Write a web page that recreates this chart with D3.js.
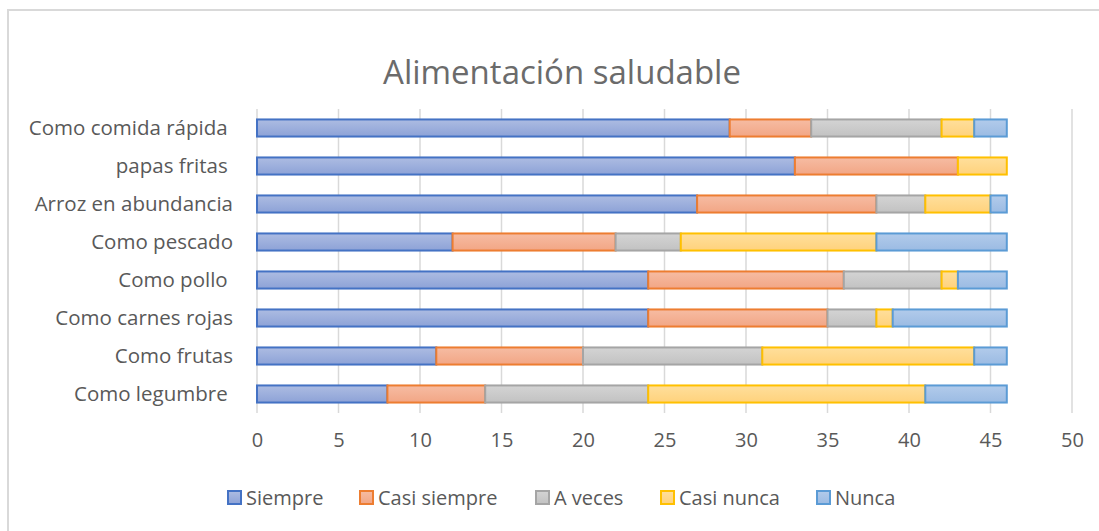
<!DOCTYPE html>
<html lang="es">
<head>
<meta charset="UTF-8">
<title>Alimentación saludable</title>
<style>
  body { margin: 0; background: #fff; }
  svg { display: block; font-family: 'Open Sans', sans-serif; }
  .lbl { fill: #595959; white-space: pre; }
</style>
</head>
<body>
<svg width="1099" height="531"></svg>
<script src="https://d3js.org/d3.v7.min.js"></script>
<script>
// categorías (de arriba a abajo)
const categories = ["Como comida rápida ", "papas fritas ", "Arroz en abundancia", "Como pescado",
  "Como pollo ", "Como carnes rojas", "Como frutas", "Como legumbre "];
const seriesNames = ["Siempre", "Casi siempre", "A veces", "Casi nunca", "Nunca"];
const siempre     = [29, 33, 27, 12, 24, 24, 11, 8];
const casiSiempre = [5, 10, 11, 10, 12, 11, 9, 6];
const aVeces      = [8, 0, 3, 4, 6, 3, 11, 10];
const casiNunca   = [2, 3, 4, 12, 1, 1, 13, 17];
const nunca       = [2, 0, 1, 8, 3, 7, 2, 5];
const xTicks = [0, 5, 10, 15, 20, 25, 30, 35, 40, 45, 50];

const series = [siempre, casiSiempre, aVeces, casiNunca, nunca];
const strokes = ["#4472c4", "#ed7d31", "#a5a5a5", "#ffc000", "#5b9bd5"];
const fillTop = ["#adbce2", "#f6bca3", "#d4d4d4", "#ffdf9c", "#b2cbeb"];
const fillBot = ["#8da2d7", "#f2a685", "#c2c2c2", "#ffd27c", "#9bbbe3"];

const svg = d3.select("svg");

// marco del gráfico
svg.append("rect")
  .attr("x", 8).attr("y", 10).attr("width", 1100).attr("height", 530)
  .attr("fill", "none").attr("stroke", "#d9d9d9").attr("stroke-width", 2);

// degradados
const defs = svg.append("defs");
seriesNames.forEach((s, i) => {
  const g = defs.append("linearGradient").attr("id", "g" + i)
    .attr("x1", 0).attr("y1", 0).attr("x2", 0).attr("y2", 1);
  g.append("stop").attr("offset", "0%").attr("stop-color", fillTop[i]);
  g.append("stop").attr("offset", "100%").attr("stop-color", fillBot[i]);
});

const x = d3.scaleLinear().domain([0, 50]).range([257, 1072]);
const y = d3.scaleBand().domain(categories).range([109, 413]).paddingInner(0.55).paddingOuter(0.275);

// título
svg.append("text")
  .attr("x", 562).attr("y", 84)
  .attr("text-anchor", "middle")
  .attr("font-size", 33)
  .attr("fill", "#6b6b6b")
  .text("Alimentación saludable");

// rejilla
svg.append("g").selectAll("line")
  .data(xTicks)
  .enter().append("line")
  .attr("x1", d => x(d)).attr("x2", d => x(d))
  .attr("y1", 109).attr("y2", 413)
  .attr("stroke", "#d9d9d9").attr("stroke-width", 1.5);

// eje x
const xAxis = svg.append("g")
  .attr("transform", "translate(0,413)")
  .call(d3.axisBottom(x).tickValues(xTicks).tickSize(0).tickPadding(20));
xAxis.select(".domain").remove();
xAxis.selectAll("text")
  .attr("class", "lbl")
  .attr("font-family", "'Open Sans', sans-serif")
  .attr("font-size", 20);

// eje y
const yAxis = svg.append("g")
  .attr("transform", "translate(233,0)")
  .call(d3.axisLeft(y).tickSize(0).tickPadding(0));
yAxis.select(".domain").remove();
yAxis.selectAll("text")
  .attr("class", "lbl")
  .attr("font-family", "'Open Sans', sans-serif")
  .attr("font-size", 20.5)
  .attr("dy", "0.36em");

// barras apiladas
const rows = categories.map((c, i) => {
  let acc = 0;
  return series.map((s, k) => {
    const seg = { cat: c, k: k, x0: acc, x1: acc + s[i] };
    acc += s[i];
    return seg;
  }).filter(d => d.x1 > d.x0);
});

svg.append("g").selectAll("rect")
  .data(rows.flat())
  .enter().append("rect")
  .attr("x", d => x(d.x0))
  .attr("y", d => y(d.cat))
  .attr("width", d => x(d.x1) - x(d.x0))
  .attr("height", y.bandwidth())
  .attr("fill", d => "url(#g" + d.k + ")")
  .attr("stroke", d => strokes[d.k])
  .attr("stroke-width", 2);

// leyenda
const legendX = [227, 359, 535, 660, 816];
const legend = svg.append("g").selectAll("g")
  .data(seriesNames)
  .enter().append("g")
  .attr("transform", (d, i) => `translate(${legendX[i]},490)`);
legend.append("rect")
  .attr("x", 1).attr("y", 1).attr("width", 13).attr("height", 13)
  .attr("fill", (d, i) => "url(#g" + i + ")")
  .attr("stroke", (d, i) => strokes[i])
  .attr("stroke-width", 2);
legend.append("text")
  .attr("class", "lbl")
  .attr("x", 19).attr("y", 15)
  .attr("font-size", 20)
  .text(d => d);
</script>
</body>
</html>
